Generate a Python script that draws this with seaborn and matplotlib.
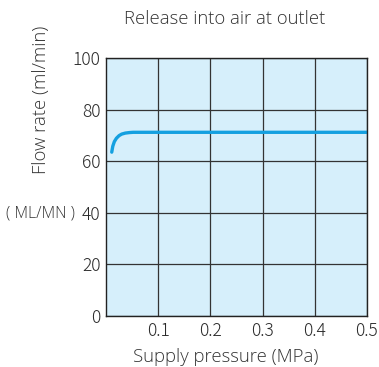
import matplotlib
matplotlib.use("Agg")
import matplotlib.pyplot as plt
import seaborn as sns
import pandas as pd

# Flow curve: supply pressure (MPa) vs. flow rate (ml/min)
pressure = [0.011, 0.013, 0.016, 0.020, 0.025, 0.030, 0.037, 0.045, 0.052, 0.10, 0.20, 0.30, 0.40, 0.50]
flow = [63.5, 65.8, 67.6, 68.9, 69.9, 70.5, 70.9, 71.1, 71.2, 71.2, 71.2, 71.2, 71.2, 71.2]
x_ticks = [0.1, 0.2, 0.3, 0.4, 0.5]
x_tick_labels = ["0.1", "0.2", "0.3", "0.4", "0.5"]
y_ticks = [0, 20, 40, 60, 80, 100]

sns.set_theme(style="white")
plt.rcParams["font.family"] = ["Noto Sans CJK JP", "DejaVu Sans"]
plt.rcParams["font.weight"] = "light"
label_font = dict(family=["Open Sans", "DejaVu Sans"], weight="light", color="#333333")

fig = plt.figure(figsize=(3.79, 3.67), dpi=100)
ax = fig.add_axes([106 / 379, 1 - 316 / 367, (367 - 106) / 379, (316 - 58) / 367])

df = pd.DataFrame({"pressure": pressure, "flow": flow})
ax.set_facecolor("#d6effb")
sns.lineplot(data=df, x="pressure", y="flow", ax=ax, color="#14a0e0", linewidth=2.4, sort=False)

ax.set_xlim(0, 0.5)
ax.set_ylim(0, 100)
ax.set_xticks(x_ticks)
ax.set_xticklabels(x_tick_labels)
ax.set_yticks(y_ticks)
ax.grid(True, color="#333333", linewidth=0.9)
ax.tick_params(length=0, pad=4, labelsize=12.5, labelcolor="#2a2a2a")
for s in ax.spines.values():
    s.set_color("#222222")
    s.set_linewidth(1.0)
ax.set_xlabel("")
ax.set_ylabel("")

fig.text(225 / 379, 1 - 19 / 367, "Release into air at outlet", ha="center", va="center",
         fontsize=13.3, **label_font)
fig.text(226 / 379, 1 - 357 / 367, "Supply pressure (MPa)", ha="center", va="center",
         fontsize=13.3, **label_font)
fig.text(41 / 379, 1 - 100 / 367, "Flow rate (ml/min)", ha="center", va="center",
         rotation=90, fontsize=13.3, **label_font)
fig.text(40 / 379, 1 - 213 / 367, "( ML/MN )", ha="center", va="center",
         fontsize=11.3, **label_font)

fig.savefig("out.png", dpi=100)
